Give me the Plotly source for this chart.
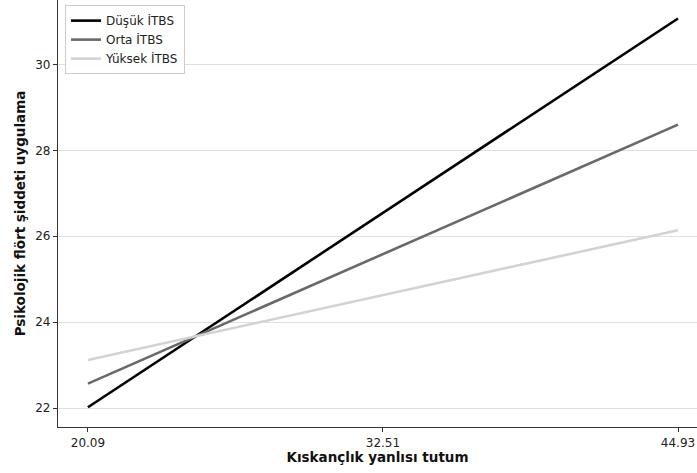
import plotly.graph_objects as go

x_vals = [20.09, 44.93]
series_names = ["Düşük İTBS", "Orta İTBS", "Yüksek İTBS"]
dusuk = [22.02, 31.07]
orta = [22.57, 28.60]
yuksek = [23.12, 26.14]
colors = ["#000000", "#696969", "#d3d3d3"]
x_ticks = [20.09, 32.51, 44.93]
y_ticks = [22, 24, 26, 28, 30]

fig = go.Figure()
for name, ys, c in zip(series_names, [dusuk, orta, yuksek], colors):
    fig.add_trace(go.Scatter(x=x_vals, y=ys, mode="lines", name=name,
                             line=dict(color=c, width=2.6)))

fig.update_layout(
    width=697, height=473,
    margin=dict(l=58, r=0, t=0, b=46),
    paper_bgcolor="white", plot_bgcolor="white",
    font=dict(family="DejaVu Sans", size=12, color="#222"),
    showlegend=True,
    legend=dict(x=0.011, y=0.988, xanchor="left", yanchor="top",
                bordercolor="#cccccc", borderwidth=1, bgcolor="rgba(255,255,255,0.85)",
                font=dict(size=12, color="#222"), itemwidth=30, tracegroupgap=0),
    xaxis=dict(range=[18.83, 45.73], tickvals=x_ticks, ticktext=[f"{v:.2f}" for v in x_ticks],
               showgrid=False, zeroline=False, showline=True, linecolor="#333", linewidth=1.2,
               ticks="outside", ticklen=4, tickcolor="#333", automargin=False,
               tickfont=dict(size=12),
               title=dict(text="<b>Kıskançlık yanlısı tutum</b>", font=dict(size=13.5, color="#111"), standoff=4)),
    yaxis=dict(range=[21.56, 31.5], tickvals=y_ticks, showgrid=True, gridcolor="#e0e0e0", gridwidth=1,
               zeroline=False, showline=True, linecolor="#333", linewidth=1.2,
               ticks="outside", ticklen=4, tickcolor="#333", automargin=False,
               tickfont=dict(size=12),
               title=dict(text="<b>Psikolojik flört şiddeti uygulama</b>", font=dict(size=13.5, color="#111"), standoff=6)),
)
fig.write_html("out.html", config={"displayModeBar": False})
with open("out.html", encoding="utf-8") as f:
    html = f.read()
html = html.replace("<body>", '<body style="margin:0;padding:0;">', 1)
with open("out.html", "w", encoding="utf-8") as f:
    f.write(html)
